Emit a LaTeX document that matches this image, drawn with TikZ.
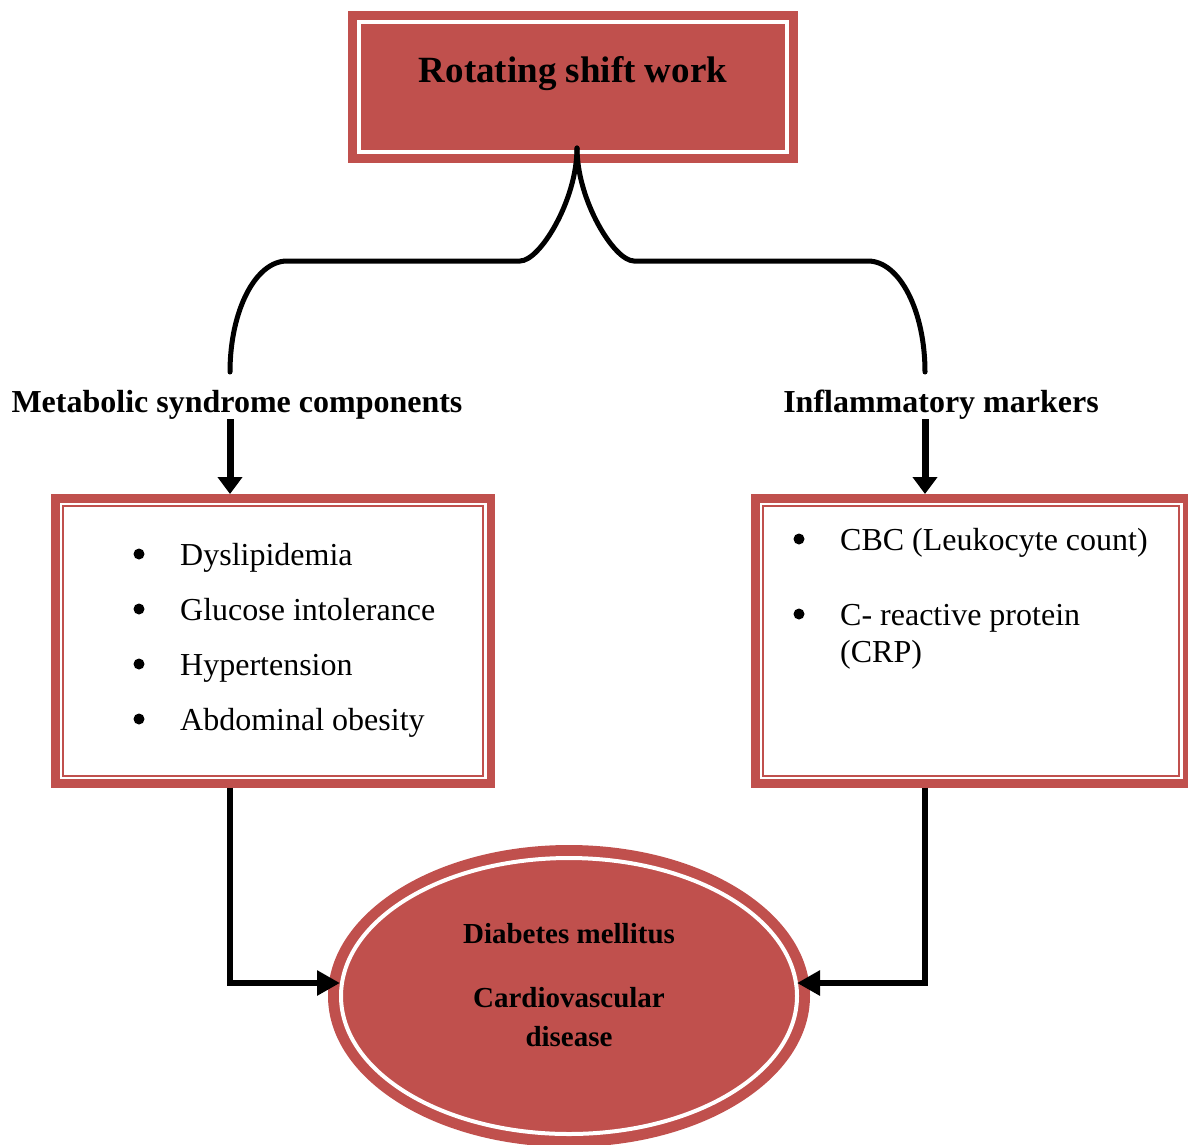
\documentclass[tikz,border=0pt]{standalone}
\usepackage{fontspec}
\setmainfont{Liberation Serif}
\usetikzlibrary{arrows.meta,shapes.geometric}
\definecolor{shiftred}{HTML}{C0504D}
\begin{document}
\begin{tikzpicture}[x=1pt,y=-1pt,
  redbox/.style={rectangle, fill=shiftred, inner sep=0pt, outer sep=0pt},
  listbox/.style={rectangle, draw=shiftred, fill=white, line width=8.5pt, inner sep=0pt, outer sep=4.25pt},
  thinline/.style={draw=shiftred, line width=2pt},
  whiteline/.style={draw=white, line width=4pt},
  brace/.style={line width=5pt, line cap=round},
  downarrow/.style={line width=7pt, -{Triangle[width=24pt,length=17pt]}},
  conn/.style={line width=6pt, -{Triangle[width=24pt,length=23pt]}},
  bigtitle/.style={font=\fontsize{37}{44}\selectfont\bfseries, inner sep=0pt, anchor=base},
  headlabel/.style={font=\fontsize{32}{38}\selectfont\bfseries, inner sep=0pt, anchor=base},
  itemtext/.style={font=\fontsize{32}{38}\selectfont, inner sep=0pt, anchor=base west},
  bul/.style={circle, fill=black, inner sep=0pt, minimum size=11pt},
  outtext/.style={font=\fontsize{29}{35}\selectfont\bfseries, inner sep=0pt, anchor=base},
]
\useasboundingbox (0,0) rectangle (1188,1144);

% top box
\node[redbox, minimum width=450pt, minimum height=151.5pt] (top) at (573,86.75) {};
\draw[whiteline] ([xshift=11pt,yshift=-11pt]top.north west) rectangle ([xshift=-11pt,yshift=11pt]top.south east);
\node[bigtitle] (toptxt) at (573,82) {Rotating shift work};

% labels
\node[headlabel] (met) at (237,412) {Metabolic syndrome components};
\node[headlabel] (inf) at (941,412) {Inflammatory markers};

% brace
\coordinate (cusp) at (577,148);
\coordinate (bl) at (230,372);
\coordinate (br) at (925,372);
\draw[brace] (cusp) .. controls (577,200) and (540,261) .. (520,261) -- (287,261) .. controls (255.5,261) and (230,310.7) .. (bl);
\draw[brace] (cusp) .. controls (577,200) and (614,261) .. (634,261) -- (868,261) .. controls (899.5,261) and (925,310.7) .. (br);

% list boxes
\node[listbox, minimum width=435.5pt, minimum height=285pt] (L) at (273,640.75) {};
\draw[thinline] ([xshift=12pt,yshift=-12pt]L.north west) rectangle ([xshift=-12pt,yshift=12pt]L.south east);
\node[listbox, minimum width=431.5pt, minimum height=285pt] (R) at (971,640.75) {};
\draw[thinline] ([xshift=12pt,yshift=-12pt]R.north west) rectangle ([xshift=-12pt,yshift=12pt]R.south east);

% arrows from labels
\draw[downarrow] (met.south -| bl) -- (L.north -| bl);
\draw[downarrow] (inf.south -| br) -- (R.north -| br);

% left items
\node[bul] (b1) at (139,554) {};
\node[itemtext] (i1) at (180,565) {Dyslipidemia};
\node[bul] (b2) at (139,609) {};
\node[itemtext] (i2) at (180,620) {Glucose intolerance};
\node[bul] (b3) at (139,664) {};
\node[itemtext] (i3) at (180,675) {Hypertension};
\node[bul] (b4) at (139,719) {};
\node[itemtext] (i4) at (180,730) {Abdominal obesity};

% right items
\node[bul] (c1) at (799,539) {};
\node[itemtext] (j1) at (840,550) {CBC (Leukocyte count)};
\node[bul] (c2) at (799,614) {};
\node[itemtext] (j2) at (840,625) {C- reactive protein};
\node[itemtext] (j3) at (840,662) {(CRP)};

% ellipse
\node[ellipse, fill=shiftred, inner sep=0pt, outer sep=0pt, minimum width=482pt, minimum height=302pt] (E) at (569,996) {};
\draw[whiteline] (E.center) ellipse [x radius=228pt, y radius=138pt];
\node[outtext] (o1) at (569,943) {Diabetes mellitus};
\node[outtext] (o2) at (569,1007) {Cardiovascular};
\node[outtext] (o3) at (569,1046) {disease};

% connectors to ellipse
\coordinate (eL) at (340,983);
\coordinate (eR) at (797,983);
\draw[conn] (L.south -| bl) |- (eL);
\draw[conn] (R.south -| br) |- (eR);
\end{tikzpicture}
\end{document}
